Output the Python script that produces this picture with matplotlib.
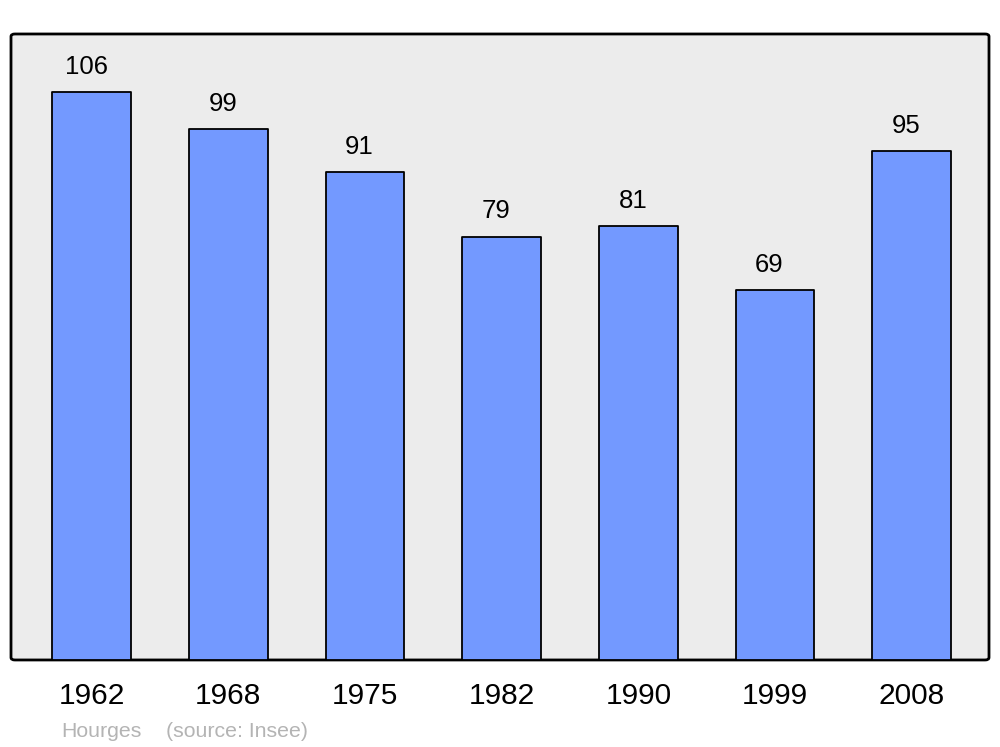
"""Population bar chart for Hourges (source: Insee)."""

import matplotlib.pyplot as plt
from matplotlib.patches import FancyBboxPatch

plt.rcParams["font.family"] = ["Liberation Sans", "DejaVu Sans"]

years = ["1962", "1968", "1975", "1982", "1990", "1999", "2008"]
population = [106, 99, 91, 79, 81, 69, 95]

fig = plt.figure(figsize=(10, 7.47), dpi=100)
ax = fig.add_axes([0.011, 0.1165, 0.978, 0.838])
ax.set_facecolor("none")

# rounded frame behind the bars
frame = FancyBboxPatch((0, 0), 1, 1, boxstyle="round,pad=0,rounding_size=0.004",
                       transform=ax.transAxes, facecolor="#ececec",
                       edgecolor="black", linewidth=2, zorder=0, clip_on=False)
ax.add_patch(frame)

x = range(len(years))
bars = ax.bar(x, population, width=0.575, color="#7399ff", edgecolor="black",
              linewidth=1.3, zorder=2)
for b in bars:
    b.set_joinstyle("round")

for xi, v in zip(x, population):
    ax.annotate(str(v), (xi, v), xytext=(-4, 9.5), textcoords="offset points",
                ha="center", va="bottom", fontsize=18.5)

ax.set_xlim(-0.59, 6.565)
ax.set_ylim(0, 116.8)
for s in ax.spines.values():
    s.set_visible(False)
ax.set_yticks([])
ax.set_xticks(list(x))
ax.set_xticklabels(years, fontsize=21.5)
ax.tick_params(axis="x", length=0, pad=16)

fig.text(0.061, 0.013, "Hourges", color="#b4b4b4", fontsize=15.3)
fig.text(0.166, 0.013, "(source: Insee)", color="#b4b4b4", fontsize=15.3)

fig.savefig("out.png", dpi=100)
